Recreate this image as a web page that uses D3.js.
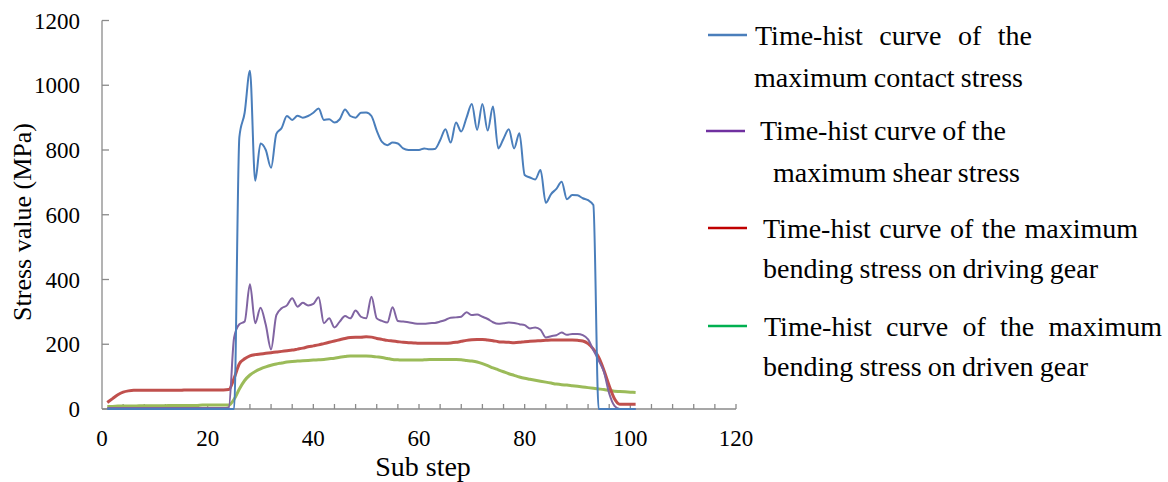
<!DOCTYPE html>
<html>
<head>
<meta charset="utf-8">
<script src="https://cdn.jsdelivr.net/npm/d3@7"></script>
</head>
<body style="margin:0;background:#fff">
<svg width="1168" height="482" style="display:block"></svg>
<script>
// sub steps 1..101
const steps = d3.range(1, 102);

const contactStress = [
  0, 0, 0, 0, 0, 0, 0, 0, 0, 0,
  0, 0, 0, 0, 0, 0, 0, 0, 0, 0,
  0, 0, 0, 0, 0, 840, 915, 1045, 705, 820,
  800, 745, 850, 868, 905, 893, 906, 900, 905, 915,
  928, 893, 895, 885, 895, 925, 905, 900, 915, 916,
  905, 860, 825, 815, 823, 820, 805, 800, 800, 800,
  805, 802, 803, 830, 864, 823, 885, 857, 900, 942,
  862, 942, 860, 934, 805, 835, 864, 805, 852, 723,
  715, 709, 738, 637, 664, 680, 702, 648, 661, 660,
  651, 645, 630, 0, 0, 0, 0, 0, 0, 0,
  0
];

const shearStress = [
  3, 3, 3, 3, 3, 3, 3, 3, 3, 3,
  3, 3, 3, 3, 3, 3, 3, 3, 3, 3,
  3, 3, 3, 5, 220, 262, 270, 385, 265, 313,
  260, 184, 290, 311, 320, 342, 316, 328, 320, 325,
  345, 265, 280, 252, 270, 287, 280, 304, 285, 280,
  347, 280, 272, 267, 314, 272, 270, 268, 265, 263,
  263, 265, 266, 270, 275, 282, 283, 285, 299, 290,
  292, 285, 278, 268, 263, 265, 267, 266, 262, 259,
  249, 252, 245, 221, 225, 228, 236, 229, 232, 232,
  228, 215, 182, 150, 115, 48, 10, 0, 0, 0,
  0
];

const bendingDriving = [
  20, 32, 44, 52, 56, 58, 58, 58, 58, 58,
  58, 58, 58, 58, 58, 59, 59, 59, 59, 59,
  59, 59, 59, 60, 95, 140, 155, 164, 168, 170,
  172, 174, 176, 178, 180, 182, 185, 188, 192, 195,
  198, 202, 206, 210, 214, 218, 221, 222, 222, 223,
  222, 218, 215, 212, 210, 208, 206, 205, 204, 203,
  203, 203, 203, 203, 203, 204, 206, 209, 212, 214,
  215, 215, 213, 211, 208, 207, 206, 205, 206, 208,
  209, 210, 211, 212, 213, 213, 213, 213, 213, 212,
  210, 202, 185, 160, 120, 72, 32, 15, 15, 15,
  15
];

const bendingDriven = [
  8, 8, 9, 9, 9, 9, 10, 10, 10, 10,
  10, 10, 11, 11, 11, 11, 11, 11, 12, 12,
  12, 12, 12, 12, 30, 62, 88, 105, 116, 124,
  130, 135, 139, 142, 145, 147, 148, 149, 150, 151,
  152, 153, 155, 157, 160, 162, 164, 164, 164, 164,
  163, 161, 159, 156, 153, 152, 151, 151, 151, 151,
  152, 153, 153, 153, 153, 153, 153, 152, 150, 148,
  145, 140, 134, 127, 121, 115, 109, 104, 99, 95,
  92, 89, 86, 83, 80, 77, 75, 74, 72, 70,
  68, 66, 64, 62, 60, 57, 55, 54, 53, 52,
  51
];

const xTicks = [0, 20, 40, 60, 80, 100, 120];
const yTicks = [0, 200, 400, 600, 800, 1000, 1200];

const legendLabels = [
  ["Time-hist curve of the", "maximum contact stress"],
  ["Time-hist curve of the", "maximum shear stress"],
  ["Time-hist curve of the maximum", "bending stress on driving gear"],
  ["Time-hist curve of the maximum", "bending stress on driven gear"]
];

const series = [
  { values: bendingDriven, color: "#9bbb59", width: 3, key: "#00b050" },
  { values: bendingDriving, color: "#c0504d", width: 3, key: "#c00000" },
  { values: shearStress, color: "#8064a2", width: 2, key: "#7030a0" },
  { values: contactStress, color: "#4a7ebb", width: 2, key: "#4a7ebb" }
];

const FONT = "'Liberation Serif'";

const svg = d3.select("svg");

const x = d3.scaleLinear().domain([0, 120]).range([102, 736]);
const y = d3.scaleLinear().domain([0, 1200]).range([409, 20.5]);

const axisColor = "#8a8a8a";

// x axis with inward minor ticks every 4 steps
const xAxis = svg.append("g").attr("transform", `translate(0,${y(0)})`);
xAxis.append("line")
    .attr("x1", x(0)).attr("x2", x(120))
    .attr("stroke", axisColor).attr("stroke-width", 1.3);
xAxis.selectAll("line.tick")
    .data(d3.range(4, 121, 4))
    .enter().append("line")
    .attr("class", "tick")
    .attr("x1", d => x(d)).attr("x2", d => x(d))
    .attr("y1", 0).attr("y2", -5)
    .attr("stroke", axisColor).attr("stroke-width", 1.3);
xAxis.selectAll("text")
    .data(xTicks)
    .enter().append("text")
    .attr("x", d => x(d))
    .attr("y", 37)
    .attr("text-anchor", "middle")
    .style("font-family", FONT)
    .attr("font-size", 23)
    .text(d => d);

// y axis, ticks point into the plot
const yAxis = svg.append("g").attr("transform", `translate(${x(0)},0)`);
yAxis.append("line")
    .attr("y1", y(0)).attr("y2", y(1200))
    .attr("stroke", axisColor).attr("stroke-width", 1.3);
yAxis.selectAll("line.tick")
    .data(yTicks)
    .enter().append("line")
    .attr("class", "tick")
    .attr("x1", 0).attr("x2", 7)
    .attr("y1", d => y(d)).attr("y2", d => y(d))
    .attr("stroke", axisColor).attr("stroke-width", 1.3);
yAxis.selectAll("text")
    .data(yTicks)
    .enter().append("text")
    .attr("x", -22)
    .attr("y", d => y(d) + 8)
    .attr("text-anchor", "end")
    .style("font-family", FONT)
    .attr("font-size", 23)
    .text(d => d);

svg.append("text")
    .attr("x", 423).attr("y", 476)
    .attr("text-anchor", "middle")
    .style("font-family", FONT)
    .attr("font-size", 28)
    .text("Sub step");

svg.append("text")
    .attr("transform", "translate(31,222) rotate(-90)")
    .attr("text-anchor", "middle")
    .style("font-family", FONT)
    .attr("font-size", 26)
    .text("Stress value (MPa)");

const line = d3.line()
    .x((d, i) => x(steps[i]))
    .y(d => y(d))
    .curve(d3.curveMonotoneX);

svg.append("g").selectAll("path")
    .data(series)
    .enter().append("path")
    .attr("d", d => line(d.values))
    .attr("fill", "none")
    .attr("stroke", d => d.color)
    .attr("stroke-width", d => d.width)
    .attr("stroke-linejoin", "round");

// legend: text lines are justified to the widths seen in the original
const legendPos = [
  { lineX: 708, lineY: 35, rows: [[755, 45, 277], [754, 87, 269]] },
  { lineX: 706, lineY: 131, rows: [[760, 140, 246], [773, 182, 247]] },
  { lineX: 708, lineY: 228, rows: [[763, 238, 375], [763, 278, 335]] },
  { lineX: 708, lineY: 326, rows: [[764, 336, 398], [763, 376, 325]] }
];

const legendKeys = series.slice().reverse();

legendPos.forEach((p, i) => {
  svg.append("line")
      .attr("x1", p.lineX).attr("x2", p.lineX + 39)
      .attr("y1", p.lineY).attr("y2", p.lineY)
      .attr("stroke", legendKeys[i].key)
      .attr("stroke-width", 2.5);

  p.rows.forEach((r, j) => {
    const label = legendLabels[i][j];
    const t = svg.append("text")
        .attr("x", r[0]).attr("y", r[1])
        .style("font-family", FONT)
        .attr("font-size", 28)
        .text(label);
    const gaps = label.split(" ").length - 1;
    const extra = r[2] - t.node().getComputedTextLength();
    if (gaps > 0) t.attr("word-spacing", extra / gaps);
  });
});
</script>
</body>
</html>
